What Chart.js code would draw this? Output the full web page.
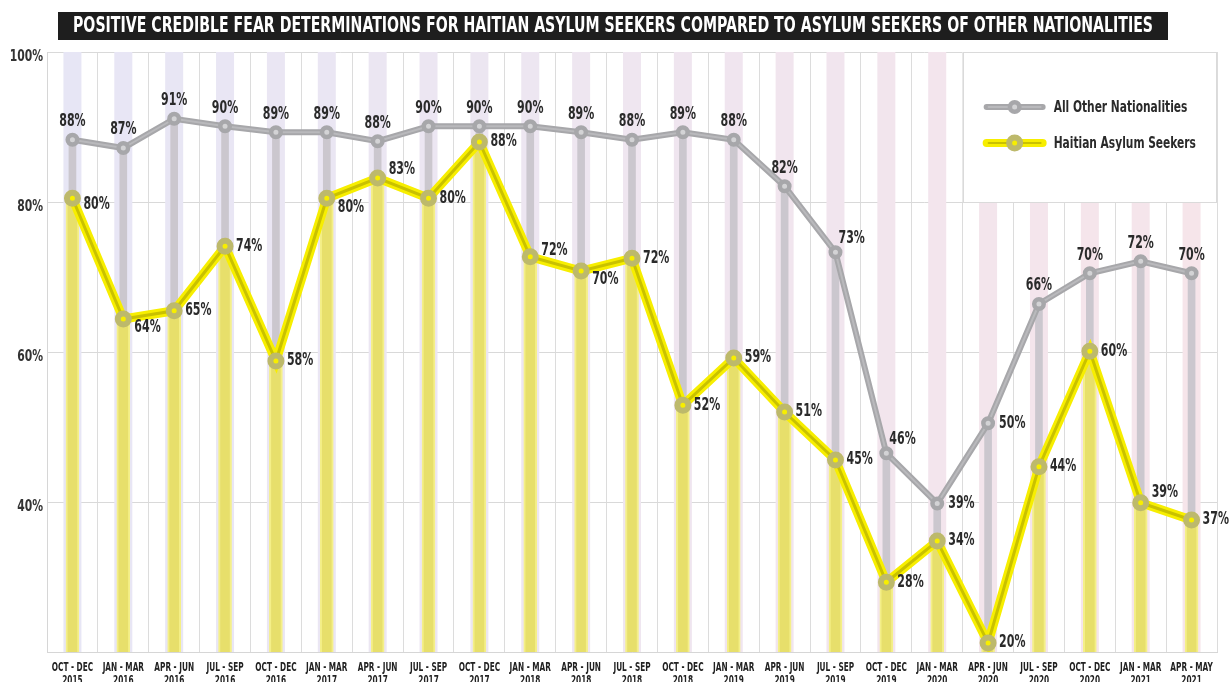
<!DOCTYPE html>
<html>
<head>
<meta charset="utf-8">
<script src="https://cdn.jsdelivr.net/npm/chart.js@4.4.1/dist/chart.umd.min.js"></script>
<style>
  html, body { margin: 0; padding: 0; background: #fff; overflow: hidden; }
  #wrap { width: 1231px; height: 690px; position: relative; }
</style>
</head>
<body>
<div id="wrap"><canvas id="grafico"></canvas></div>
<script>
// categorias (trimestres)
var periods = [
  ['OCT - DEC', '2015'], ['JAN - MAR', '2016'], ['APR - JUN', '2016'], ['JUL - SEP', '2016'],
  ['OCT - DEC', '2016'], ['JAN - MAR', '2017'], ['APR - JUN', '2017'], ['JUL - SEP', '2017'],
  ['OCT - DEC', '2017'], ['JAN - MAR', '2018'], ['APR - JUN', '2018'], ['JUL - SEP', '2018'],
  ['OCT - DEC', '2018'], ['JAN - MAR', '2019'], ['APR - JUN', '2019'], ['JUL - SEP', '2019'],
  ['OCT - DEC', '2019'], ['JAN - MAR', '2020'], ['APR - JUN', '2020'], ['JUL - SEP', '2020'],
  ['OCT - DEC', '2020'], ['JAN - MAR', '2021'], ['APR - MAY', '2021']
];

// valores plotados (lidos da posição no gráfico)
var otherNationalities = [88.3, 87.2, 91.1, 90.1, 89.3, 89.3, 88.1, 90.1, 90.1, 90.1, 89.3, 88.3,
                          89.3, 88.3, 82.1, 73.3, 46.5, 39.8, 50.5, 66.4, 70.5, 72.1, 70.5];
var haitianSeekers = [80.5, 64.4, 65.5, 74.1, 58.8, 80.5, 83.2, 80.5, 88.0, 72.7, 70.8, 72.5,
                      52.9, 59.2, 52.0, 45.6, 29.3, 34.8, 21.2, 44.7, 60.1, 39.9, 37.6];

// rótulos impressos
var otherLabels = [88, 87, 91, 90, 89, 89, 88, 90, 90, 90, 89, 88, 89, 88, 82, 73, 46, 39, 50, 66, 70, 72, 70];
var haitianLabels = [80, 64, 65, 74, 58, 80, 83, 80, 88, 72, 70, 72, 52, 59, 51, 45, 28, 34, 20, 44, 60, 39, 37];

var yTicks = [20, 40, 60, 80, 100];
var seriesNames = ['All Other Nationalities', 'Haitian Asylum Seekers'];
var titleText = 'POSITIVE CREDIBLE FEAR DETERMINATIONS FOR HAITIAN ASYLUM SEEKERS COMPARED TO ASYLUM SEEKERS OF OTHER NATIONALITIES';

var FONT = '"Liberation Sans Narrow", "DejaVu Sans Condensed", sans-serif';
var GRAY = '#a7a7aa', GRAY_IN = '#b9b9bc';
var YEL = '#f7ee00', YEL_IN = '#c9c100', OLIVE = '#bdb96b';
var SQUEEZE = 0.72;

// posição dos rótulos
var grayPlace = function (i) { return (i === 15 || i === 16) ? 'topright' : (i === 17 || i === 18) ? 'right' : 'top'; };
var yelDy = { 0: 6, 1: 9, 5: 9, 6: -8, 9: -6, 10: 9, 21: -10 };

function mix(a, b, t) {
  var r = Math.round(a[0] + (b[0] - a[0]) * t), g = Math.round(a[1] + (b[1] - a[1]) * t), bl = Math.round(a[2] + (b[2] - a[2]) * t);
  return 'rgb(' + r + ',' + g + ',' + bl + ')';
}

// texto condensado (sem fonte estreita instalada)
function narrowText(ctx, text, x, y, align, sx) {
  ctx.save();
  ctx.translate(x, y);
  ctx.scale(sx, 1);
  ctx.textAlign = align;
  ctx.fillText(text, 0, 0);
  ctx.restore();
}

var decorPlugin = {
  id: 'decor',
  beforeDatasetsDraw: function (chart) {
    var ctx = chart.ctx, ca = chart.chartArea, xs = chart.scales.x, ys = chart.scales.y;
    ctx.save();
    // faixas de fundo
    for (var i = 0; i < periods.length; i++) {
      var x = xs.getPixelForValue(i);
      ctx.fillStyle = mix([231, 230, 245], [246, 229, 234], i / (periods.length - 1));
      ctx.fillRect(x - 9, ca.top, 18, ca.bottom - ca.top);
    }
    // caixa da legenda
    var left = (xs.getPixelForValue(17) + xs.getPixelForValue(18)) / 2;
    var bottom = ys.getPixelForValue(80);
    ctx.fillStyle = '#fff';
    ctx.fillRect(left, ca.top, ca.right - left, bottom - ca.top);
    ctx.strokeStyle = '#dadada';
    ctx.lineWidth = 1;
    ctx.strokeRect(Math.round(left) + 0.5, ca.top + 0.5, ca.right - Math.round(left) - 1, bottom - ca.top);
    ctx.restore();
  },
  afterDatasetsDraw: function (chart) {
    var ctx = chart.ctx, ca = chart.chartArea, xs = chart.scales.x;
    ctx.save();
    ctx.font = 'bold 17px ' + FONT;
    ctx.fillStyle = '#2a2a2a';
    ctx.textBaseline = 'middle';
    var gm = chart.getDatasetMeta(2), ym = chart.getDatasetMeta(4);
    gm.data.forEach(function (pt, i) {
      var t = otherLabels[i] + '%', p = grayPlace(i);
      if (p === 'top') narrowText(ctx, t, pt.x, pt.y - 18, 'center', SQUEEZE);
      else if (p === 'topright') narrowText(ctx, t, pt.x + 3, pt.y - 14, 'left', SQUEEZE);
      else narrowText(ctx, t, pt.x + 11, pt.y, 'left', SQUEEZE);
    });
    ym.data.forEach(function (pt, i) {
      narrowText(ctx, haitianLabels[i] + '%', pt.x + 11, pt.y + (yelDy[i] || 0), 'left', SQUEEZE);
    });

    // legenda
    var lx = (xs.getPixelForValue(17) + xs.getPixelForValue(18)) / 2 + 24;
    var items = [
      { y: ca.top + 55, outer: GRAY, inner: GRAY_IN, w: 6, ring: GRAY, dot: '#d3d3d5', r: 4.75, bw: 4.5 },
      { y: ca.top + 91, outer: YEL, inner: YEL_IN, w: 8, ring: OLIVE, dot: YEL, r: 5.5, bw: 6 }
    ];
    items.forEach(function (it, k) {
      ctx.lineCap = 'round';
      ctx.strokeStyle = it.outer; ctx.lineWidth = it.w;
      ctx.beginPath(); ctx.moveTo(lx, it.y); ctx.lineTo(lx + 56, it.y); ctx.stroke();
      ctx.strokeStyle = it.inner; ctx.lineWidth = 2;
      ctx.beginPath(); ctx.moveTo(lx + 2, it.y); ctx.lineTo(lx + 54, it.y); ctx.stroke();
      ctx.beginPath(); ctx.arc(lx + 28, it.y, it.r, 0, Math.PI * 2);
      ctx.fillStyle = it.dot; ctx.fill();
      ctx.strokeStyle = it.ring; ctx.lineWidth = it.bw; ctx.stroke();
      ctx.fillStyle = '#2a2a2a';
      ctx.font = 'bold 16px ' + FONT;
      narrowText(ctx, seriesNames[k], lx + 67, it.y + 1, 'left', 0.74);
    });
    ctx.restore();
  },
  afterDraw: function (chart) {
    var ctx = chart.ctx, xs = chart.scales.x, ys = chart.scales.y, ca = chart.chartArea;
    ctx.save();
    ctx.textBaseline = 'middle';

    // eixo x
    ctx.fillStyle = '#222';
    ctx.font = 'bold 12px ' + FONT;
    periods.forEach(function (p, i) {
      var x = xs.getPixelForValue(i);
      narrowText(ctx, p[0], x, ca.bottom + 16, 'center', 0.68);
      narrowText(ctx, p[1], x, ca.bottom + 29, 'center', 0.68);
    });

    // eixo y
    ctx.fillStyle = '#333';
    ctx.font = 'bold 15px ' + FONT;
    yTicks.forEach(function (v) {
      if (v === yTicks[0]) return;
      narrowText(ctx, v + '%', ca.left - 4, ys.getPixelForValue(v) + 5, 'right', 0.8);
    });

    // título
    ctx.fillStyle = '#1e1e1e';
    ctx.fillRect(58, 12, 1110, 28);
    ctx.font = 'bold 21px ' + FONT;
    ctx.fillStyle = '#fff';
    ctx.textAlign = 'center';
    var w = ctx.measureText(titleText).width;
    narrowText(ctx, titleText, 613, 27, 'center', 1080 / w);
    ctx.restore();
  }
};

document.addEventListener('DOMContentLoaded', function () {
  var ctx = document.getElementById('grafico').getContext('2d');
  new Chart(ctx, {
    data: {
      labels: periods,
      datasets: [
        { type: 'line', data: haitianSeekers, borderColor: YEL_IN, borderWidth: 3, tension: 0,
          pointRadius: 5.5, pointBackgroundColor: YEL, pointBorderColor: OLIVE, pointBorderWidth: 6, order: 1 },
        { type: 'line', data: haitianSeekers, borderColor: YEL, borderWidth: 9, tension: 0,
          pointRadius: 0, order: 2 },
        { type: 'line', data: otherNationalities, borderColor: GRAY_IN, borderWidth: 2, tension: 0,
          pointRadius: 4.75, pointBackgroundColor: '#d3d3d5', pointBorderColor: GRAY, pointBorderWidth: 4.5, order: 3 },
        { type: 'line', data: otherNationalities, borderColor: GRAY, borderWidth: 6, tension: 0,
          pointRadius: 0, order: 4 },
        { type: 'bar', data: haitianSeekers, backgroundColor: '#e7df6b', borderColor: '#f4ef88',
          borderWidth: { left: 2, right: 2, top: 0, bottom: 0 }, barThickness: 13, grouped: false, order: 5 },
        { type: 'bar', data: otherNationalities, backgroundColor: '#cbc7ce', barThickness: 7, grouped: false, order: 6 }
      ]
    },
    options: {
      responsive: true,
      maintainAspectRatio: false,
      animation: false,
      layout: { padding: { top: 52, right: 14, left: 0, bottom: 0 } },
      plugins: { legend: { display: false }, tooltip: { enabled: false } },
      scales: {
        x: {
          offset: true,
          grid: { offset: true, color: '#dcdcdc', drawTicks: false },
          border: { color: '#d6d6d6' },
          ticks: { display: false },
          afterFit: function (s) { s.height = 38; }
        },
        y: {
          min: yTicks[0], max: yTicks[yTicks.length - 1],
          afterBuildTicks: function (s) { s.ticks = yTicks.map(function (v) { return { value: v }; }); },
          grid: { color: '#d9d9d9', drawTicks: false },
          border: { color: '#d6d6d6' },
          ticks: { display: false },
          afterFit: function (s) { s.width = 47; }
        }
      }
    },
    plugins: [decorPlugin]
  });
});
</script>
</body>
</html>
